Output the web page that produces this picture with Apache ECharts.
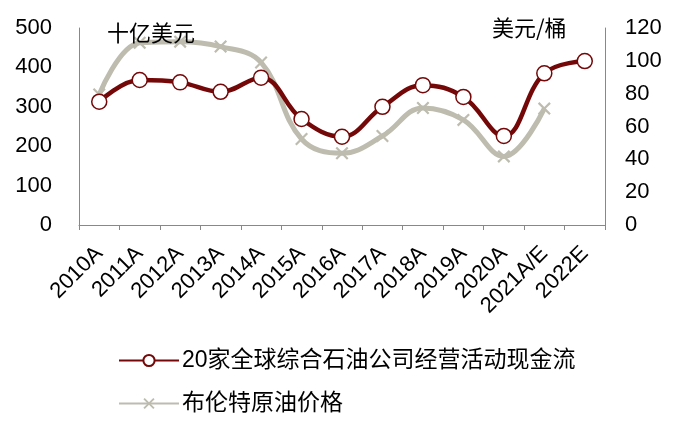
<!DOCTYPE html>
<html>
<head>
<meta charset="utf-8">
<script src="https://cdn.jsdelivr.net/npm/echarts@6/dist/echarts.min.js"></script>
<style>
html,body{margin:0;padding:0;background:#fff;}
#chart{width:678px;height:427px;}
</style>
</head>
<body>
<div id="chart"></div>
<script>
const categories = ['2010A','2011A','2012A','2013A','2014A','2015A','2016A','2017A','2018A','2019A','2020A','2021A/E','2022E'];
const cashFlow = [313, 368, 362, 338, 374, 269, 224, 300, 355, 325, 226, 385, 416];
const brent = [79.5, 111, 111.7, 108.7, 99, 52.4, 43.7, 54.2, 71.3, 64, 41.8, 70.9, null];
const leftTicks = [0, 500, 100];
const rightTicks = [0, 120, 20];
const seriesNames = ['20家全球综合石油公司经营活动现金流', '布伦特原油价格'];

const FONT = '"Liberation Sans", Arial, "Noto Sans CJK SC", sans-serif';
const RED = '#740808';
const GREY = '#BDBCAF';
const CROSS = 'path://M0,1.2L1.2,0L5,3.8L8.8,0L10,1.2L6.2,5L10,8.8L8.8,10L5,6.2L1.2,10L0,8.8L3.8,5Z';

const chart = echarts.init(document.getElementById('chart'), null, {renderer: 'canvas'});
chart.setOption({
  animation: false,
  backgroundColor: '#fff',
  textStyle: {fontFamily: FONT},
  grid: {left: 79, right: 73, top: 28, bottom: 202, containLabel: false},
  legend: {
    data: [seriesNames[0], seriesNames[1]],
    orient: 'vertical',
    left: 118,
    top: 349,
    padding: 0,
    itemWidth: 60,
    itemHeight: 14,
    itemGap: 20,
    textStyle: {fontSize: 23, color: '#000', fontFamily: FONT, padding: [0,0,0,-2]}
  },
  graphic: [
    {type: 'text', left: 107, top: 22, z: 100, style: {text: '十亿美元', font: '22px "Noto Sans CJK SC", sans-serif', fill: '#000'}},
    {type: 'text', left: 492, top: 17, z: 100, style: {text: '美元/桶', font: '22px "Noto Sans CJK SC", sans-serif', fill: '#000'}}
  ],
  xAxis: {
    type: 'category',
    data: categories,
    boundaryGap: true,
    axisLine: {show: true, lineStyle: {color: '#888', width: 1}},
    axisTick: {show: true, length: 5, alignWithLabel: false, lineStyle: {color: '#888'}},
    axisLabel: {rotate: 45, interval: 0, fontSize: 22, color: '#000', margin: 25, fontFamily: FONT},
    splitLine: {show: false}
  },
  yAxis: [
    {
      type: 'value', min: leftTicks[0], max: leftTicks[1], interval: leftTicks[2],
      axisLine: {show: true, lineStyle: {color: '#888'}},
      axisTick: {show: false},
      splitLine: {show: false},
      axisLabel: {fontSize: 22, color: '#000', margin: 27, fontFamily: FONT}
    },
    {
      type: 'value', min: rightTicks[0], max: rightTicks[1], interval: rightTicks[2],
      position: 'right',
      axisLine: {show: true, lineStyle: {color: '#888'}},
      axisTick: {show: false},
      splitLine: {show: false},
      axisLabel: {fontSize: 22, color: '#000', margin: 20, fontFamily: FONT}
    }
  ],
  series: [
    {
      name: seriesNames[1],
      type: 'line',
      yAxisIndex: 1,
      data: brent,
      smooth: 0.4,
      z: 2,
      symbol: CROSS,
      symbolSize: 13,
      showAllSymbol: true,
      lineStyle: {color: GREY, width: 5},
      itemStyle: {color: GREY, borderWidth: 0}
    },
    {
      name: seriesNames[0],
      type: 'line',
      yAxisIndex: 0,
      data: cashFlow,
      smooth: 0.4,
      z: 3,
      symbol: 'circle',
      symbolSize: 15,
      showAllSymbol: true,
      lineStyle: {color: RED, width: 4.5},
      itemStyle: {color: '#fff', borderColor: RED, borderWidth: 1.5}
    }
  ]
});
</script>
</body>
</html>
